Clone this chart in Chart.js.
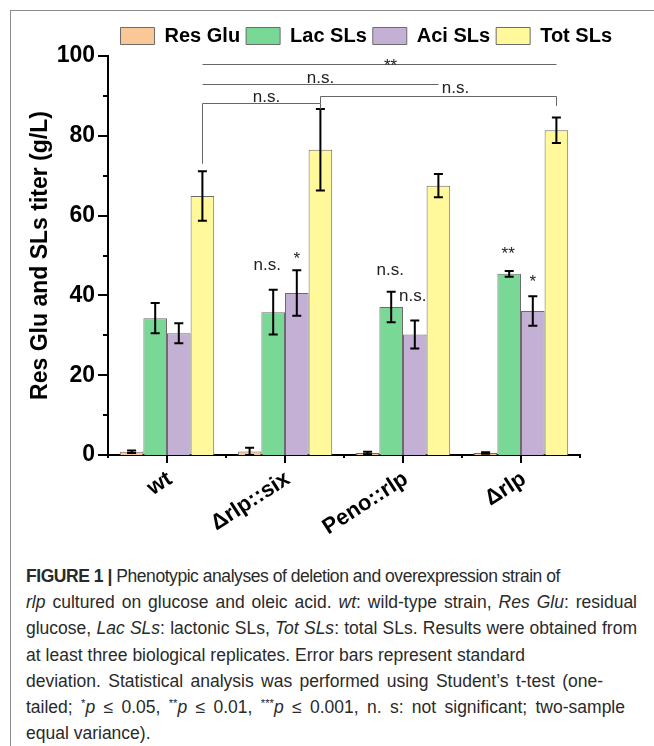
<!DOCTYPE html>
<html>
<head>
<meta charset="utf-8">
<script src="https://cdn.jsdelivr.net/npm/chart.js@4.4.1/dist/chart.umd.min.js"></script>
<style>
  body { margin: 0; background: #fff; width: 654px; height: 746px; position: relative; overflow: hidden; }
  #frame { position: absolute; left: 10px; top: 10px; right: 0; bottom: 0; border-top: 1px solid #8a8a8a; border-left: 1px solid #8a8a8a; }
  #chart { position: absolute; left: 0; top: 0; }
  #caption { position: absolute; left: 26px; top: 563px; font: 17.5px 'Liberation Sans', Arial, sans-serif; color: #2a2a2a; line-height: 26.2px; }
  #caption div { white-space: nowrap; height: 26.2px; }
  #caption .line { display: inline-block; }
  #caption sup { font-size: 0.65em; line-height: 0; vertical-align: 0.5em; }
</style>
</head>
<body>
<div id="frame"></div>
<canvas id="chart" width="654" height="550"></canvas>
<div id="caption">
  <div><span class="line"><b>FIGURE 1 |</b> Phenotypic analyses of deletion and overexpression strain of</span></div>
  <div><span class="line"><i>rlp</i> cultured on glucose and oleic acid. <i>wt</i>: wild-type strain, <i>Res Glu</i>: residual</span></div>
  <div><span class="line">glucose, <i>Lac SLs</i>: lactonic SLs, <i>Tot SLs</i>: total SLs. Results were obtained from</span></div>
  <div><span class="line">at least three biological replicates. Error bars represent standard</span></div>
  <div><span class="line">deviation. Statistical analysis was performed using Student’s t-test (one-</span></div>
  <div><span class="line">tailed; <sup>*</sup><i>p</i> ≤ 0.05, <sup>**</sup><i>p</i> ≤ 0.01, <sup>***</sup><i>p</i> ≤ 0.001, n. s: not significant; two-sample</span></div>
  <div><span class="line">equal variance).</span></div>
</div>
<script>
const strains = ['wt', 'Δrlp::six', 'Peno::rlp', 'Δrlp'];
const seriesNames = ['Res Glu', 'Lac SLs', 'Aci SLs', 'Tot SLs'];

const resGlu = [0.8, 0.9, 0.5, 0.5];
const resGluSd = [0.3, 0.9, 0.3, 0.2];
const lacSLs = [34.3, 35.8, 37.1, 45.4];
const lacSLsSd = [3.8, 5.6, 3.8, 0.7];
const aciSLs = [30.5, 40.6, 30.2, 36.1];
const aciSLsSd = [2.5, 5.7, 3.5, 3.7];
const totSLs = [64.9, 76.5, 67.5, 81.4];
const totSLsSd = [6.2, 10.2, 2.9, 3.2];

const yMajorTicks = [0, 20, 40, 60, 80, 100];
const yMinorTicks = [10, 30, 50, 70, 90];

// significance marks over single bars: [series, strain, text, baseline value]
const barMarks = [
  [1, 1, 'n.s.', 46.4],
  [2, 1, '*', 47.8],
  [1, 2, 'n.s.', 45.1],
  [2, 2, 'n.s.', 38.5],
  [1, 3, '**', 49.2],
  [2, 3, '*', 42.2],
];
// comparisons between Tot SLs bars: [from strain, to strain, level, left leg end, right leg end, text]
const pairMarks = [
  [0, 1, 88.1, 73, 86.7, 'n.s.'],
  [1, 3, 90, 88.1, 87.5, 'n.s.'],
  [0, 2, 93.1, null, null, 'n.s.'],
  [0, 3, 97.9, null, null, '**'],
];
// label nudges for the marks above, in pixels [dx, dy]
const barMarkShift = [[-6, 0], [0, 0], [-1, 0], [-2, 0], [-1, 0], [0, 0]];
const pairMarkShift = [[5, -2], [17, -4], [0, -2], [11, 6]];

const FONT = "'Liberation Sans', Arial, sans-serif";
const colors = ['#FAC896', '#7AD897', '#C5B0D5', '#FFF99C'];
const values = [resGlu, lacSLs, aciSLs, totSLs];
const errors = [resGluSd, lacSLsSd, aciSLsSd, totSLsSd];

const decorations = {
  id: 'decorations',
  afterDatasetsDraw(chart) {
    const { ctx, scales: { y } } = chart;
    ctx.save();
    ctx.strokeStyle = '#000';
    ctx.lineWidth = 2;
    errors.forEach((sd, i) => {
      chart.getDatasetMeta(i).data.forEach((bar, j) => {
        const v = values[i][j];
        const top = y.getPixelForValue(v + sd[j]);
        const bottom = y.getPixelForValue(Math.max(v - sd[j], 0));
        ctx.beginPath();
        ctx.moveTo(bar.x, top);
        ctx.lineTo(bar.x, bottom);
        ctx.moveTo(bar.x - 4.5, top);
        ctx.lineTo(bar.x + 4.5, top);
        ctx.moveTo(bar.x - 4.5, bottom);
        ctx.lineTo(bar.x + 4.5, bottom);
        ctx.stroke();
      });
    });
    ctx.restore();
  },
  afterDraw(chart) {
    const { ctx, chartArea, scales: { x, y } } = chart;
    ctx.save();
    ctx.strokeStyle = '#000';
    ctx.lineWidth = 2;

    // y ticks, outward
    ctx.beginPath();
    yMajorTicks.forEach((v) => {
      const py = Math.round(y.getPixelForValue(v));
      ctx.moveTo(chartArea.left - 10, py);
      ctx.lineTo(chartArea.left, py);
    });
    yMinorTicks.forEach((v) => {
      const py = Math.round(y.getPixelForValue(v));
      ctx.moveTo(chartArea.left - 5, py);
      ctx.lineTo(chartArea.left, py);
    });

    // x ticks: long at strains, short between them
    const step = (x.right - x.left) / strains.length;
    strains.forEach((s, i) => {
      const px = Math.round(x.getPixelForValue(i));
      ctx.moveTo(px, chartArea.bottom);
      ctx.lineTo(px, chartArea.bottom + 8);
    });
    for (let i = 0; i <= strains.length; i++) {
      const px = Math.round(x.left + i * step);
      ctx.moveTo(px, chartArea.bottom);
      ctx.lineTo(px, chartArea.bottom + 3);
    }
    ctx.stroke();

    // significance
    const totMeta = chart.getDatasetMeta(3);
    ctx.font = `17px ${FONT}`;
    ctx.fillStyle = '#222';
    ctx.textAlign = 'center';
    ctx.textBaseline = 'alphabetic';
    ctx.strokeStyle = '#666';
    ctx.lineWidth = 1;
    pairMarks.forEach(([from, to, level, leftEnd, rightEnd, text], k) => {
      const x1 = Math.round(totMeta.data[from].x) + 0.5;
      const x2 = Math.round(totMeta.data[to].x) + 0.5;
      const py = Math.round(y.getPixelForValue(level)) + 0.5;
      ctx.beginPath();
      if (leftEnd !== null) {
        ctx.moveTo(x1, y.getPixelForValue(leftEnd));
      } else {
        ctx.moveTo(x1, py);
      }
      ctx.lineTo(x1, py);
      ctx.lineTo(x2, py);
      if (rightEnd !== null) {
        ctx.lineTo(x2, y.getPixelForValue(rightEnd));
      }
      ctx.stroke();
      const [dx, dy] = pairMarkShift[k];
      ctx.fillText(text, (x1 + x2) / 2 + dx, py + dy);
    });

    barMarks.forEach(([series, strain, text, level], k) => {
      const bar = chart.getDatasetMeta(series).data[strain];
      const [dx, dy] = barMarkShift[k];
      ctx.fillText(text, bar.x + dx, y.getPixelForValue(level) + dy);
    });
    ctx.restore();
  },
};

new Chart(document.getElementById('chart'), {
  type: 'bar',
  data: {
    labels: strains,
    datasets: seriesNames.map((name, i) => ({
      label: name,
      data: values[i],
      backgroundColor: colors[i],
      borderColor: '#6b6b6b',
      borderWidth: 1,
      barPercentage: 1,
      categoryPercentage: 0.8,
      yAxisID: 'y',
    })),
  },
  options: {
    responsive: false,
    animation: false,
    layout: { padding: { top: 20, right: 36, left: 0, bottom: 0 } },
    plugins: {
      legend: {
        position: 'top',
        align: 'end',
        labels: {
          boxWidth: 34,
          boxHeight: 17,
          padding: 6,
          color: '#000',
          font: { family: FONT, size: 20, weight: 'bold' },
        },
      },
      tooltip: { enabled: false },
    },
    scales: {
      x: {
        grid: { display: false, drawTicks: false },
        border: { display: true, color: '#000', width: 2 },
        ticks: {
          color: '#000',
          font: { family: FONT, size: 22, weight: 'bold' },
          minRotation: 33,
          maxRotation: 33,
          padding: 11,
          labelOffset: 3,
          autoSkip: false,
        },
        afterFit: (scale) => { scale.height = 95; },
      },
      y: {
        min: 0,
        max: 100,
        grid: { display: false, drawTicks: false },
        border: { display: true, color: '#000', width: 2 },
        afterBuildTicks: (scale) => { scale.ticks = yMajorTicks.map((v) => ({ value: v })); },
        ticks: {
          color: '#000',
          padding: 13,
          font: { family: FONT, size: 23, weight: 'bold' },
        },
        title: {
          display: true,
          text: 'Res Glu and SLs titer (g/L)',
          color: '#000',
          font: { family: FONT, size: 23, weight: 'bold' },
          padding: { top: 27, bottom: 0 },
        },
        afterFit: (scale) => { scale.width = 108; },
      },
      yRight: {
        position: 'right',
        grid: { display: false, drawTicks: false },
        border: { display: false },
        ticks: { display: false },
        afterFit: (scale) => { scale.width = 38; },
      },
    },
  },
  plugins: [decorations],
});

// fit caption lines to the widths of the printed figure:
// tighten letters when a line is too long, widen word gaps when it is short
const lineEnds = [560, 637, 637, 525, 603, 625, null];
document.querySelectorAll('#caption .line').forEach((el, i) => {
  const end = lineEnds[i];
  if (!end) {
    return;
  }
  const diff = end - 26 - el.getBoundingClientRect().width;
  if (diff < 0) {
    el.style.letterSpacing = (diff / el.textContent.length) + 'px';
  } else {
    const spaces = (el.textContent.match(/ /g) || []).length;
    el.style.wordSpacing = (diff / spaces) + 'px';
  }
});
</script>
</body>
</html>
